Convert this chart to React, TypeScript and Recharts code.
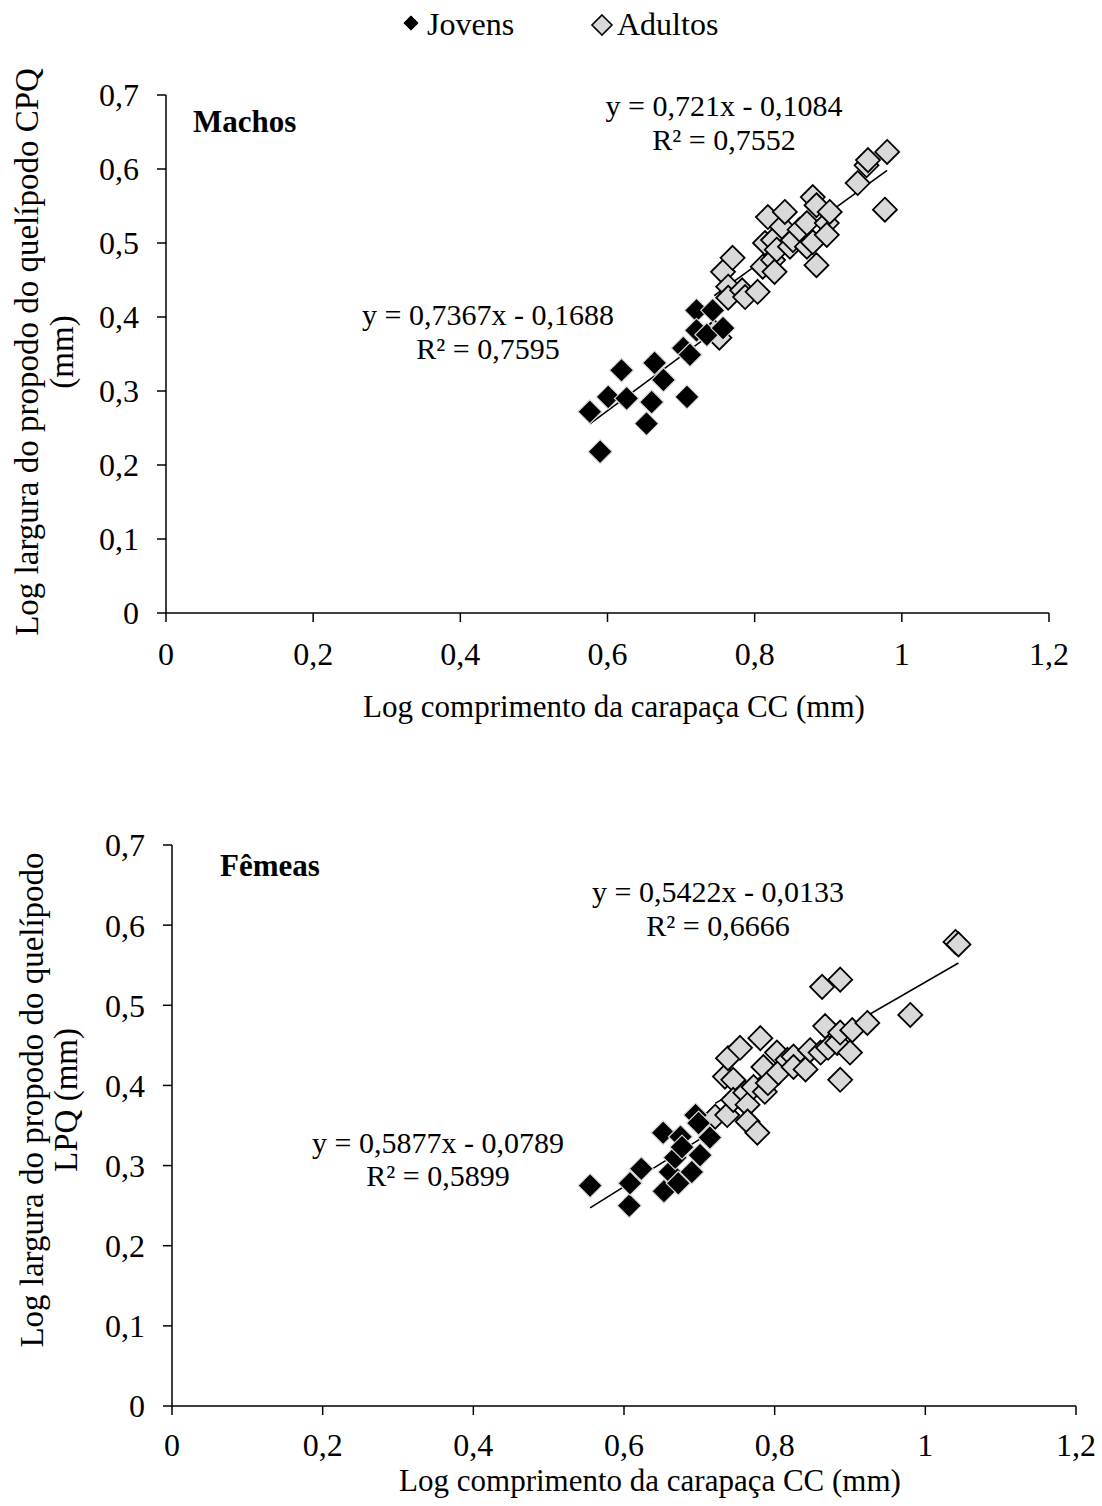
import { ScatterChart, Scatter, XAxis, YAxis, ReferenceLine } from 'recharts';

const FONT = '"Liberation Serif", "Times New Roman", serif';

const xTicks = [0, 0.2, 0.4, 0.6, 0.8, 1, 1.2];
const yTicks = [0, 0.1, 0.2, 0.3, 0.4, 0.5, 0.6, 0.7];

// Machos
const machosJovensX = [0.576, 0.59, 0.601, 0.619, 0.626, 0.653, 0.66, 0.664, 0.676, 0.703, 0.708, 0.712, 0.721, 0.721, 0.735, 0.743, 0.757];
const machosJovensY = [0.272, 0.218, 0.292, 0.328, 0.29, 0.256, 0.285, 0.338, 0.315, 0.358, 0.292, 0.349, 0.409, 0.382, 0.376, 0.409, 0.385];
const machosAdultosX = [0.745, 0.752, 0.757, 0.764, 0.764, 0.77, 0.783, 0.787, 0.804, 0.811, 0.814, 0.818, 0.825, 0.825, 0.827, 0.83, 0.837, 0.841, 0.848, 0.852, 0.861, 0.871, 0.871, 0.879, 0.879, 0.884, 0.884, 0.898, 0.898, 0.902, 0.94, 0.952, 0.954, 0.977, 0.98];
const machosAdultosY = [0.38, 0.372, 0.461, 0.441, 0.426, 0.48, 0.436, 0.427, 0.434, 0.468, 0.5, 0.535, 0.504, 0.477, 0.461, 0.491, 0.522, 0.542, 0.495, 0.504, 0.518, 0.527, 0.495, 0.562, 0.501, 0.551, 0.47, 0.527, 0.511, 0.542, 0.581, 0.605, 0.612, 0.545, 0.623];

// Fêmeas
const femeasJovensX = [0.555, 0.607, 0.608, 0.623, 0.652, 0.653, 0.661, 0.668, 0.672, 0.675, 0.677, 0.69, 0.695, 0.699, 0.701, 0.714];
const femeasJovensY = [0.275, 0.25, 0.278, 0.296, 0.341, 0.268, 0.292, 0.31, 0.278, 0.336, 0.323, 0.292, 0.363, 0.353, 0.313, 0.335];
const femeasAdultosX = [0.721, 0.734, 0.737, 0.738, 0.745, 0.745, 0.754, 0.761, 0.764, 0.764, 0.772, 0.777, 0.781, 0.785, 0.787, 0.791, 0.803, 0.805, 0.817, 0.825, 0.825, 0.841, 0.847, 0.861, 0.863, 0.867, 0.871, 0.883, 0.887, 0.887, 0.887, 0.9, 0.903, 0.923, 0.98, 1.04, 1.044];
const femeasAdultosY = [0.361, 0.411, 0.363, 0.434, 0.407, 0.382, 0.447, 0.391, 0.376, 0.355, 0.398, 0.341, 0.459, 0.423, 0.392, 0.403, 0.441, 0.416, 0.432, 0.436, 0.423, 0.42, 0.444, 0.441, 0.523, 0.474, 0.447, 0.453, 0.532, 0.466, 0.407, 0.441, 0.469, 0.478, 0.488, 0.579, 0.576];

// regressões [inclinação, intercepto]
const machosJovensFit = [0.7367, -0.1688];
const machosAdultosFit = [0.721, -0.1084];
const femeasJovensFit = [0.5877, -0.0789];
const femeasAdultosFit = [0.5422, -0.0133];

const zip = (xs: number[], ys: number[]) => xs.map((x, i) => ({ x, y: ys[i] }));
const fmt = (v: number) => String(v).replace('.', ',');

const fitSegment = (xs: number[], fit: number[]) => {
  const x0 = Math.min(...xs);
  const x1 = Math.max(...xs);
  return [
    { x: x0, y: fit[0] * x0 + fit[1] },
    { x: x1, y: fit[0] * x1 + fit[1] },
  ];
};

const Diamond = (props: any) => {
  const { cx, cy, dark } = props;
  if (cx == null || cy == null) return null;
  const r = 12;
  const pts = `${cx},${cy - r} ${cx + r},${cy} ${cx},${cy + r} ${cx - r},${cy}`;
  return dark ? (
    <polygon points={pts} fill="#000" stroke="#d9d9d9" strokeWidth={1.2} />
  ) : (
    <polygon points={pts} fill="#d9d9d9" stroke="#000" strokeWidth={1.8} />
  );
};

interface PanelProps {
  top: number;
  height: number;
  plotTop: number;
  yAxisWidth: number;
  right: number;
  xAxisHeight: number;
  xTickMargin: number;
  jovensX: number[];
  jovensY: number[];
  adultosX: number[];
  adultosY: number[];
  jovensFit: number[];
  adultosFit: number[];
}

const Panel = (p: PanelProps) => {
  const tick = { fill: '#000', fontSize: 32, fontFamily: FONT };
  return (
    <div style={{ position: 'absolute', left: 0, top: p.top }}>
      <ScatterChart width={1102} height={p.height} margin={{ top: p.plotTop, right: p.right, bottom: 0, left: 0 }}>
        <XAxis
          type="number"
          dataKey="x"
          domain={[0, 1.2]}
          ticks={xTicks}
          tickFormatter={fmt}
          tick={tick}
          tickSize={9}
          tickMargin={p.xTickMargin}
          height={p.xAxisHeight}
          axisLine={{ stroke: '#000', strokeWidth: 1.5 }}
          tickLine={{ stroke: '#000', strokeWidth: 1.5 }}
        />
        <YAxis
          type="number"
          dataKey="y"
          domain={[0, 0.7]}
          ticks={yTicks}
          tickFormatter={fmt}
          tick={tick}
          tickSize={9}
          tickMargin={18}
          width={p.yAxisWidth}
          axisLine={{ stroke: '#000', strokeWidth: 1.5 }}
          tickLine={{ stroke: '#000', strokeWidth: 1.5 }}
        />
        <Scatter
          name="Adultos"
          data={zip(p.adultosX, p.adultosY)}
          shape={(s: any) => <Diamond {...s} />}
          isAnimationActive={false}
        />
        <Scatter
          name="Jovens"
          data={zip(p.jovensX, p.jovensY)}
          shape={(s: any) => <Diamond {...s} dark />}
          isAnimationActive={false}
        />
        <ReferenceLine segment={fitSegment(p.jovensX, p.jovensFit)} stroke="#000" strokeWidth={1.6} ifOverflow="visible" />
        <ReferenceLine segment={fitSegment(p.adultosX, p.adultosFit)} stroke="#000" strokeWidth={1.6} ifOverflow="visible" />
      </ScatterChart>
    </div>
  );
};

const App = () => {
  return (
    <div style={{ position: 'absolute', left: 0, top: 0, width: 1102, height: 1506, background: '#fff', fontFamily: FONT }}>
      <Panel
        top={0}
        height={700}
        plotTop={95}
        yAxisWidth={166}
        right={53}
        xAxisHeight={87}
        xTickMargin={20}
        jovensX={machosJovensX}
        jovensY={machosJovensY}
        adultosX={machosAdultosX}
        adultosY={machosAdultosY}
        jovensFit={machosJovensFit}
        adultosFit={machosAdultosFit}
      />
      <Panel
        top={750}
        height={750}
        plotTop={95}
        yAxisWidth={172}
        right={26}
        xAxisHeight={94}
        xTickMargin={18}
        jovensX={femeasJovensX}
        jovensY={femeasJovensY}
        adultosX={femeasAdultosX}
        adultosY={femeasAdultosY}
        jovensFit={femeasJovensFit}
        adultosFit={femeasAdultosFit}
      />
      <svg width={1102} height={1506} style={{ position: 'absolute', left: 0, top: 0, pointerEvents: 'none' }} fontFamily={FONT} fill="#000">
        {/* legenda */}
        <polygon points="411,15 419,23 411,31 403,23" fill="#000" stroke="#d9d9d9" strokeWidth={1} />
        <text x={427} y={35} fontSize={32}>Jovens</text>
        <polygon points="602,15 612,25 602,35 592,25" fill="#d9d9d9" stroke="#000" strokeWidth={1.6} />
        <text x={617} y={35} fontSize={32}>Adultos</text>

        {/* Machos */}
        <text x={193} y={132} fontSize={31} fontWeight="bold">Machos</text>
        <text x={724} y={116} fontSize={30} textAnchor="middle">y = 0,721x - 0,1084</text>
        <text x={724} y={150} fontSize={30} textAnchor="middle">R² = 0,7552</text>
        <text x={488} y={325} fontSize={30} textAnchor="middle">y = 0,7367x - 0,1688</text>
        <text x={488} y={359} fontSize={30} textAnchor="middle">R² = 0,7595</text>
        <text x={614} y={717} fontSize={31} textAnchor="middle">Log comprimento da carapaça CC (mm)</text>
        <text transform="translate(38,352) rotate(-90)" fontSize={33} textAnchor="middle">Log largura do propodo do quelípodo CPQ</text>
        <text transform="translate(73,352) rotate(-90)" fontSize={33} textAnchor="middle">(mm)</text>

        {/* Fêmeas */}
        <text x={220} y={876} fontSize={31} fontWeight="bold">Fêmeas</text>
        <text x={718} y={902} fontSize={30} textAnchor="middle">y = 0,5422x - 0,0133</text>
        <text x={718} y={936} fontSize={30} textAnchor="middle">R² = 0,6666</text>
        <text x={438} y={1153} fontSize={30} textAnchor="middle">y = 0,5877x - 0,0789</text>
        <text x={438} y={1186} fontSize={30} textAnchor="middle">R² = 0,5899</text>
        <text x={650} y={1491} fontSize={31} textAnchor="middle">Log comprimento da carapaça CC (mm)</text>
        <text transform="translate(43,1100) rotate(-90)" fontSize={33} textAnchor="middle">Log largura do propodo do quelípodo</text>
        <text transform="translate(77,1100) rotate(-90)" fontSize={33} textAnchor="middle">LPQ (mm)</text>
      </svg>
    </div>
  );
};

export default App;
